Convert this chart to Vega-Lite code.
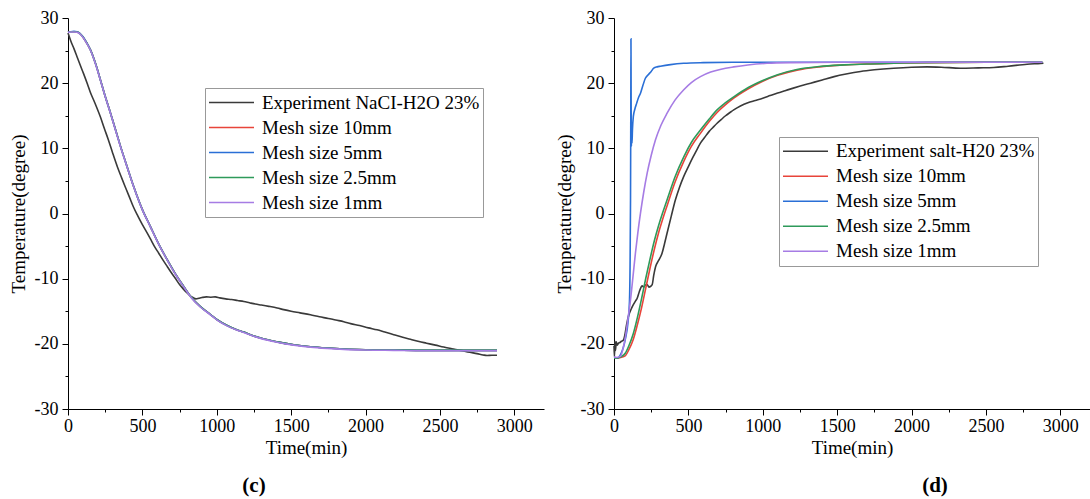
{
 "$schema": "https://vega.github.io/schema/vega-lite/v6.json",
 "background": "white",
 "padding": {"left": 9, "top": 9, "right": 2, "bottom": 2},
 "spacing": 11,
 "config": {
  "font": "Liberation Serif",
  "view": {"stroke": null},
  "axis": {"domainColor": "#000", "tickColor": "#000", "grid": false, "domainWidth": 1, "tickWidth": 1, "labelOverlap": false, "labelFlush": false, "labelFont": "Liberation Serif", "labelFontSize": 18, "labelColor": "#000", "titleFont": "Liberation Serif", "titleFontSize": 19, "titleFontWeight": "normal", "titleColor": "#000"},
  "legend": {"symbolType": "stroke", "symbolSize": 2025, "symbolStrokeWidth": 1.6, "labelFont": "Liberation Serif", "labelFontSize": 19, "labelColor": "#000", "labelOffset": 7, "strokeColor": "#999", "fillColor": "white", "padding": 3, "rowPadding": 2, "labelLimit": 400}
 },
 "resolve": {"scale": {"color": "independent"}, "legend": {"color": "independent"}},
 "datasets": {
  "c": [
   {"s":"Experiment NaCI-H2O 23%","t":0,"v":27.7},{"s":"Experiment NaCI-H2O 23%","t":20,"v":26.4},{"s":"Experiment NaCI-H2O 23%","t":40,"v":25.3},{"s":"Experiment NaCI-H2O 23%","t":60,"v":24.1},{"s":"Experiment NaCI-H2O 23%","t":80,"v":22.9},{"s":"Experiment NaCI-H2O 23%","t":104,"v":21.5},{"s":"Experiment NaCI-H2O 23%","t":130,"v":19.9},{"s":"Experiment NaCI-H2O 23%","t":150,"v":18.6},{"s":"Experiment NaCI-H2O 23%","t":180,"v":17.0},{"s":"Experiment NaCI-H2O 23%","t":218,"v":14.8},{"s":"Experiment NaCI-H2O 23%","t":245,"v":13.0},{"s":"Experiment NaCI-H2O 23%","t":270,"v":11.4},{"s":"Experiment NaCI-H2O 23%","t":300,"v":9.3},{"s":"Experiment NaCI-H2O 23%","t":333,"v":7.1},{"s":"Experiment NaCI-H2O 23%","t":360,"v":5.5},{"s":"Experiment NaCI-H2O 23%","t":390,"v":3.8},{"s":"Experiment NaCI-H2O 23%","t":415,"v":2.4},{"s":"Experiment NaCI-H2O 23%","t":440,"v":1.0},{"s":"Experiment NaCI-H2O 23%","t":470,"v":-0.4},{"s":"Experiment NaCI-H2O 23%","t":500,"v":-1.7},{"s":"Experiment NaCI-H2O 23%","t":530,"v":-2.9},{"s":"Experiment NaCI-H2O 23%","t":554,"v":-3.9},{"s":"Experiment NaCI-H2O 23%","t":580,"v":-5.0},{"s":"Experiment NaCI-H2O 23%","t":610,"v":-6.1},{"s":"Experiment NaCI-H2O 23%","t":640,"v":-7.2},{"s":"Experiment NaCI-H2O 23%","t":669,"v":-8.2},{"s":"Experiment NaCI-H2O 23%","t":695,"v":-9.1},{"s":"Experiment NaCI-H2O 23%","t":720,"v":-9.9},{"s":"Experiment NaCI-H2O 23%","t":750,"v":-10.9},{"s":"Experiment NaCI-H2O 23%","t":776,"v":-11.6},{"s":"Experiment NaCI-H2O 23%","t":801,"v":-12.2},{"s":"Experiment NaCI-H2O 23%","t":820,"v":-12.6},{"s":"Experiment NaCI-H2O 23%","t":840,"v":-12.9},{"s":"Experiment NaCI-H2O 23%","t":860,"v":-13.1},{"s":"Experiment NaCI-H2O 23%","t":880,"v":-13.0},{"s":"Experiment NaCI-H2O 23%","t":900,"v":-12.9},{"s":"Experiment NaCI-H2O 23%","t":930,"v":-12.8},{"s":"Experiment NaCI-H2O 23%","t":960,"v":-12.85},{"s":"Experiment NaCI-H2O 23%","t":990,"v":-12.8},{"s":"Experiment NaCI-H2O 23%","t":1020,"v":-12.95},{"s":"Experiment NaCI-H2O 23%","t":1060,"v":-13.1},{"s":"Experiment NaCI-H2O 23%","t":1100,"v":-13.2},{"s":"Experiment NaCI-H2O 23%","t":1140,"v":-13.35},{"s":"Experiment NaCI-H2O 23%","t":1182,"v":-13.5},{"s":"Experiment NaCI-H2O 23%","t":1220,"v":-13.7},{"s":"Experiment NaCI-H2O 23%","t":1260,"v":-13.9},{"s":"Experiment NaCI-H2O 23%","t":1300,"v":-14.05},{"s":"Experiment NaCI-H2O 23%","t":1350,"v":-14.25},{"s":"Experiment NaCI-H2O 23%","t":1406,"v":-14.5},{"s":"Experiment NaCI-H2O 23%","t":1450,"v":-14.75},{"s":"Experiment NaCI-H2O 23%","t":1500,"v":-15.0},{"s":"Experiment NaCI-H2O 23%","t":1560,"v":-15.25},{"s":"Experiment NaCI-H2O 23%","t":1630,"v":-15.55},{"s":"Experiment NaCI-H2O 23%","t":1690,"v":-15.85},{"s":"Experiment NaCI-H2O 23%","t":1750,"v":-16.1},{"s":"Experiment NaCI-H2O 23%","t":1800,"v":-16.35},{"s":"Experiment NaCI-H2O 23%","t":1854,"v":-16.6},{"s":"Experiment NaCI-H2O 23%","t":1900,"v":-16.9},{"s":"Experiment NaCI-H2O 23%","t":1960,"v":-17.2},{"s":"Experiment NaCI-H2O 23%","t":2020,"v":-17.55},{"s":"Experiment NaCI-H2O 23%","t":2078,"v":-17.85},{"s":"Experiment NaCI-H2O 23%","t":2130,"v":-18.2},{"s":"Experiment NaCI-H2O 23%","t":2190,"v":-18.6},{"s":"Experiment NaCI-H2O 23%","t":2250,"v":-19.0},{"s":"Experiment NaCI-H2O 23%","t":2302,"v":-19.3},{"s":"Experiment NaCI-H2O 23%","t":2360,"v":-19.65},{"s":"Experiment NaCI-H2O 23%","t":2410,"v":-19.9},{"s":"Experiment NaCI-H2O 23%","t":2470,"v":-20.2},{"s":"Experiment NaCI-H2O 23%","t":2526,"v":-20.5},{"s":"Experiment NaCI-H2O 23%","t":2580,"v":-20.75},{"s":"Experiment NaCI-H2O 23%","t":2638,"v":-21.0},{"s":"Experiment NaCI-H2O 23%","t":2700,"v":-21.3},{"s":"Experiment NaCI-H2O 23%","t":2750,"v":-21.5},{"s":"Experiment NaCI-H2O 23%","t":2790,"v":-21.7},{"s":"Experiment NaCI-H2O 23%","t":2817,"v":-21.8},{"s":"Experiment NaCI-H2O 23%","t":2850,"v":-21.75},{"s":"Experiment NaCI-H2O 23%","t":2884,"v":-21.75},
   {"s":"Mesh size 10mm","t":0,"v":27.8},{"s":"Mesh size 10mm","t":20,"v":27.9},{"s":"Mesh size 10mm","t":40,"v":27.9},{"s":"Mesh size 10mm","t":60,"v":27.85},{"s":"Mesh size 10mm","t":80,"v":27.6},{"s":"Mesh size 10mm","t":100,"v":27.1},{"s":"Mesh size 10mm","t":125,"v":26.2},{"s":"Mesh size 10mm","t":151,"v":25.1},{"s":"Mesh size 10mm","t":185,"v":23.0},{"s":"Mesh size 10mm","t":218,"v":20.5},{"s":"Mesh size 10mm","t":250,"v":18.0},{"s":"Mesh size 10mm","t":286,"v":15.4},{"s":"Mesh size 10mm","t":320,"v":12.8},{"s":"Mesh size 10mm","t":353,"v":10.3},{"s":"Mesh size 10mm","t":400,"v":7.0},{"s":"Mesh size 10mm","t":442,"v":4.1},{"s":"Mesh size 10mm","t":500,"v":0.6},{"s":"Mesh size 10mm","t":554,"v":-2.0},{"s":"Mesh size 10mm","t":610,"v":-4.7},{"s":"Mesh size 10mm","t":667,"v":-7.1},{"s":"Mesh size 10mm","t":720,"v":-9.2},{"s":"Mesh size 10mm","t":778,"v":-11.2},{"s":"Mesh size 10mm","t":830,"v":-12.9},{"s":"Mesh size 10mm","t":890,"v":-14.3},{"s":"Mesh size 10mm","t":958,"v":-15.5},{"s":"Mesh size 10mm","t":1003,"v":-16.3},{"s":"Mesh size 10mm","t":1070,"v":-17.2},{"s":"Mesh size 10mm","t":1130,"v":-17.8},{"s":"Mesh size 10mm","t":1182,"v":-18.2},{"s":"Mesh size 10mm","t":1250,"v":-18.8},{"s":"Mesh size 10mm","t":1300,"v":-19.15},{"s":"Mesh size 10mm","t":1406,"v":-19.7},{"s":"Mesh size 10mm","t":1518,"v":-20.15},{"s":"Mesh size 10mm","t":1630,"v":-20.45},{"s":"Mesh size 10mm","t":1742,"v":-20.65},{"s":"Mesh size 10mm","t":1854,"v":-20.8},{"s":"Mesh size 10mm","t":2000,"v":-20.9},{"s":"Mesh size 10mm","t":2190,"v":-20.95},{"s":"Mesh size 10mm","t":2400,"v":-21.0},{"s":"Mesh size 10mm","t":2600,"v":-21.0},{"s":"Mesh size 10mm","t":2884,"v":-21.0},
   {"s":"Mesh size 5mm","t":0,"v":27.8},{"s":"Mesh size 5mm","t":20,"v":27.9},{"s":"Mesh size 5mm","t":40,"v":27.95},{"s":"Mesh size 5mm","t":60,"v":27.9},{"s":"Mesh size 5mm","t":80,"v":27.65},{"s":"Mesh size 5mm","t":100,"v":27.15},{"s":"Mesh size 5mm","t":125,"v":26.25},{"s":"Mesh size 5mm","t":151,"v":25.1},{"s":"Mesh size 5mm","t":185,"v":23.0},{"s":"Mesh size 5mm","t":218,"v":20.5},{"s":"Mesh size 5mm","t":250,"v":18.0},{"s":"Mesh size 5mm","t":286,"v":15.4},{"s":"Mesh size 5mm","t":320,"v":12.8},{"s":"Mesh size 5mm","t":353,"v":10.3},{"s":"Mesh size 5mm","t":400,"v":7.0},{"s":"Mesh size 5mm","t":442,"v":4.1},{"s":"Mesh size 5mm","t":500,"v":0.6},{"s":"Mesh size 5mm","t":554,"v":-2.0},{"s":"Mesh size 5mm","t":610,"v":-4.7},{"s":"Mesh size 5mm","t":667,"v":-7.1},{"s":"Mesh size 5mm","t":720,"v":-9.2},{"s":"Mesh size 5mm","t":778,"v":-11.2},{"s":"Mesh size 5mm","t":830,"v":-12.9},{"s":"Mesh size 5mm","t":890,"v":-14.3},{"s":"Mesh size 5mm","t":958,"v":-15.5},{"s":"Mesh size 5mm","t":1003,"v":-16.3},{"s":"Mesh size 5mm","t":1070,"v":-17.2},{"s":"Mesh size 5mm","t":1130,"v":-17.8},{"s":"Mesh size 5mm","t":1182,"v":-18.2},{"s":"Mesh size 5mm","t":1250,"v":-18.8},{"s":"Mesh size 5mm","t":1300,"v":-19.15},{"s":"Mesh size 5mm","t":1406,"v":-19.7},{"s":"Mesh size 5mm","t":1518,"v":-20.15},{"s":"Mesh size 5mm","t":1630,"v":-20.45},{"s":"Mesh size 5mm","t":1742,"v":-20.65},{"s":"Mesh size 5mm","t":1854,"v":-20.8},{"s":"Mesh size 5mm","t":2000,"v":-20.9},{"s":"Mesh size 5mm","t":2190,"v":-20.95},{"s":"Mesh size 5mm","t":2400,"v":-21.0},{"s":"Mesh size 5mm","t":2600,"v":-21.0},{"s":"Mesh size 5mm","t":2884,"v":-21.0},
   {"s":"Mesh size 2.5mm","t":0,"v":27.8},{"s":"Mesh size 2.5mm","t":20,"v":27.9},{"s":"Mesh size 2.5mm","t":40,"v":27.9},{"s":"Mesh size 2.5mm","t":60,"v":27.85},{"s":"Mesh size 2.5mm","t":80,"v":27.6},{"s":"Mesh size 2.5mm","t":100,"v":27.1},{"s":"Mesh size 2.5mm","t":125,"v":26.2},{"s":"Mesh size 2.5mm","t":151,"v":25.1},{"s":"Mesh size 2.5mm","t":185,"v":23.0},{"s":"Mesh size 2.5mm","t":218,"v":20.5},{"s":"Mesh size 2.5mm","t":250,"v":18.0},{"s":"Mesh size 2.5mm","t":286,"v":15.4},{"s":"Mesh size 2.5mm","t":320,"v":12.8},{"s":"Mesh size 2.5mm","t":353,"v":10.3},{"s":"Mesh size 2.5mm","t":400,"v":7.0},{"s":"Mesh size 2.5mm","t":442,"v":4.1},{"s":"Mesh size 2.5mm","t":500,"v":0.6},{"s":"Mesh size 2.5mm","t":554,"v":-2.0},{"s":"Mesh size 2.5mm","t":610,"v":-4.7},{"s":"Mesh size 2.5mm","t":667,"v":-7.1},{"s":"Mesh size 2.5mm","t":720,"v":-9.2},{"s":"Mesh size 2.5mm","t":778,"v":-11.2},{"s":"Mesh size 2.5mm","t":830,"v":-12.9},{"s":"Mesh size 2.5mm","t":890,"v":-14.3},{"s":"Mesh size 2.5mm","t":958,"v":-15.5},{"s":"Mesh size 2.5mm","t":1003,"v":-16.3},{"s":"Mesh size 2.5mm","t":1070,"v":-17.2},{"s":"Mesh size 2.5mm","t":1130,"v":-17.8},{"s":"Mesh size 2.5mm","t":1182,"v":-18.2},{"s":"Mesh size 2.5mm","t":1250,"v":-18.8},{"s":"Mesh size 2.5mm","t":1300,"v":-19.15},{"s":"Mesh size 2.5mm","t":1406,"v":-19.7},{"s":"Mesh size 2.5mm","t":1518,"v":-20.15},{"s":"Mesh size 2.5mm","t":1630,"v":-20.45},{"s":"Mesh size 2.5mm","t":1742,"v":-20.65},{"s":"Mesh size 2.5mm","t":1854,"v":-20.8},{"s":"Mesh size 2.5mm","t":2000,"v":-20.9},{"s":"Mesh size 2.5mm","t":2190,"v":-20.95},{"s":"Mesh size 2.5mm","t":2400,"v":-21.0},{"s":"Mesh size 2.5mm","t":2600,"v":-21.0},{"s":"Mesh size 2.5mm","t":2884,"v":-21.0},
   {"s":"Mesh size 1mm","t":0,"v":27.8},{"s":"Mesh size 1mm","t":20,"v":27.85},{"s":"Mesh size 1mm","t":40,"v":27.85},{"s":"Mesh size 1mm","t":60,"v":27.8},{"s":"Mesh size 1mm","t":80,"v":27.55},{"s":"Mesh size 1mm","t":100,"v":27.05},{"s":"Mesh size 1mm","t":125,"v":26.15},{"s":"Mesh size 1mm","t":151,"v":25.05},{"s":"Mesh size 1mm","t":185,"v":22.95},{"s":"Mesh size 1mm","t":218,"v":20.45},{"s":"Mesh size 1mm","t":250,"v":17.95},{"s":"Mesh size 1mm","t":286,"v":15.35},{"s":"Mesh size 1mm","t":320,"v":12.75},{"s":"Mesh size 1mm","t":353,"v":10.25},{"s":"Mesh size 1mm","t":400,"v":6.95},{"s":"Mesh size 1mm","t":442,"v":4.05},{"s":"Mesh size 1mm","t":500,"v":0.55},{"s":"Mesh size 1mm","t":554,"v":-2.05},{"s":"Mesh size 1mm","t":610,"v":-4.75},{"s":"Mesh size 1mm","t":667,"v":-7.15},{"s":"Mesh size 1mm","t":720,"v":-9.25},{"s":"Mesh size 1mm","t":778,"v":-11.25},{"s":"Mesh size 1mm","t":830,"v":-12.95},{"s":"Mesh size 1mm","t":890,"v":-14.35},{"s":"Mesh size 1mm","t":958,"v":-15.55},{"s":"Mesh size 1mm","t":1003,"v":-16.35},{"s":"Mesh size 1mm","t":1070,"v":-17.25},{"s":"Mesh size 1mm","t":1130,"v":-17.85},{"s":"Mesh size 1mm","t":1182,"v":-18.25},{"s":"Mesh size 1mm","t":1250,"v":-18.85},{"s":"Mesh size 1mm","t":1300,"v":-19.2},{"s":"Mesh size 1mm","t":1406,"v":-19.75},{"s":"Mesh size 1mm","t":1518,"v":-20.2},{"s":"Mesh size 1mm","t":1630,"v":-20.5},{"s":"Mesh size 1mm","t":1742,"v":-20.7},{"s":"Mesh size 1mm","t":1854,"v":-20.85},{"s":"Mesh size 1mm","t":2000,"v":-20.95},{"s":"Mesh size 1mm","t":2190,"v":-21.0},{"s":"Mesh size 1mm","t":2400,"v":-21.05},{"s":"Mesh size 1mm","t":2600,"v":-21.05},{"s":"Mesh size 1mm","t":2884,"v":-21.05}
  ],
  "d": [
   {"s":"Experiment salt-H20 23%","t":0,"v":-20.3},{"s":"Experiment salt-H20 23%","t":3,"v":-22.0},{"s":"Experiment salt-H20 23%","t":6,"v":-19.6},{"s":"Experiment salt-H20 23%","t":10,"v":-21.0},{"s":"Experiment salt-H20 23%","t":15,"v":-19.7},{"s":"Experiment salt-H20 23%","t":22,"v":-20.2},{"s":"Experiment salt-H20 23%","t":30,"v":-19.9},{"s":"Experiment salt-H20 23%","t":40,"v":-19.8},{"s":"Experiment salt-H20 23%","t":50,"v":-19.6},{"s":"Experiment salt-H20 23%","t":60,"v":-19.5},{"s":"Experiment salt-H20 23%","t":66,"v":-19.3},{"s":"Experiment salt-H20 23%","t":75,"v":-18.4},{"s":"Experiment salt-H20 23%","t":85,"v":-17.0},{"s":"Experiment salt-H20 23%","t":99,"v":-15.6},{"s":"Experiment salt-H20 23%","t":115,"v":-14.7},{"s":"Experiment salt-H20 23%","t":130,"v":-14.0},{"s":"Experiment salt-H20 23%","t":145,"v":-13.4},{"s":"Experiment salt-H20 23%","t":156,"v":-13.0},{"s":"Experiment salt-H20 23%","t":170,"v":-12.0},{"s":"Experiment salt-H20 23%","t":180,"v":-11.4},{"s":"Experiment salt-H20 23%","t":189,"v":-11.1},{"s":"Experiment salt-H20 23%","t":200,"v":-11.3},{"s":"Experiment salt-H20 23%","t":210,"v":-11.0},{"s":"Experiment salt-H20 23%","t":223,"v":-10.9},{"s":"Experiment salt-H20 23%","t":235,"v":-11.3},{"s":"Experiment salt-H20 23%","t":245,"v":-11.2},{"s":"Experiment salt-H20 23%","t":257,"v":-10.9},{"s":"Experiment salt-H20 23%","t":267,"v":-9.5},{"s":"Experiment salt-H20 23%","t":279,"v":-8.2},{"s":"Experiment salt-H20 23%","t":300,"v":-7.2},{"s":"Experiment salt-H20 23%","t":323,"v":-6.1},{"s":"Experiment salt-H20 23%","t":340,"v":-4.6},{"s":"Experiment salt-H20 23%","t":357,"v":-3.0},{"s":"Experiment salt-H20 23%","t":385,"v":-0.4},{"s":"Experiment salt-H20 23%","t":413,"v":2.1},{"s":"Experiment salt-H20 23%","t":440,"v":4.0},{"s":"Experiment salt-H20 23%","t":469,"v":5.7},{"s":"Experiment salt-H20 23%","t":500,"v":7.2},{"s":"Experiment salt-H20 23%","t":530,"v":8.6},{"s":"Experiment salt-H20 23%","t":555,"v":9.7},{"s":"Experiment salt-H20 23%","t":581,"v":10.8},{"s":"Experiment salt-H20 23%","t":610,"v":11.7},{"s":"Experiment salt-H20 23%","t":640,"v":12.6},{"s":"Experiment salt-H20 23%","t":665,"v":13.2},{"s":"Experiment salt-H20 23%","t":693,"v":13.85},{"s":"Experiment salt-H20 23%","t":720,"v":14.4},{"s":"Experiment salt-H20 23%","t":750,"v":15.0},{"s":"Experiment salt-H20 23%","t":780,"v":15.5},{"s":"Experiment salt-H20 23%","t":805,"v":15.9},{"s":"Experiment salt-H20 23%","t":850,"v":16.5},{"s":"Experiment salt-H20 23%","t":900,"v":17.0},{"s":"Experiment salt-H20 23%","t":950,"v":17.35},{"s":"Experiment salt-H20 23%","t":1000,"v":17.7},{"s":"Experiment salt-H20 23%","t":1050,"v":18.1},{"s":"Experiment salt-H20 23%","t":1100,"v":18.5},{"s":"Experiment salt-H20 23%","t":1150,"v":18.85},{"s":"Experiment salt-H20 23%","t":1200,"v":19.2},{"s":"Experiment salt-H20 23%","t":1252,"v":19.55},{"s":"Experiment salt-H20 23%","t":1322,"v":20.0},{"s":"Experiment salt-H20 23%","t":1400,"v":20.5},{"s":"Experiment salt-H20 23%","t":1480,"v":21.0},{"s":"Experiment salt-H20 23%","t":1560,"v":21.4},{"s":"Experiment salt-H20 23%","t":1658,"v":21.8},{"s":"Experiment salt-H20 23%","t":1750,"v":22.05},{"s":"Experiment salt-H20 23%","t":1880,"v":22.3},{"s":"Experiment salt-H20 23%","t":2000,"v":22.45},{"s":"Experiment salt-H20 23%","t":2105,"v":22.5},{"s":"Experiment salt-H20 23%","t":2200,"v":22.45},{"s":"Experiment salt-H20 23%","t":2329,"v":22.3},{"s":"Experiment salt-H20 23%","t":2450,"v":22.35},{"s":"Experiment salt-H20 23%","t":2553,"v":22.4},{"s":"Experiment salt-H20 23%","t":2650,"v":22.6},{"s":"Experiment salt-H20 23%","t":2777,"v":22.9},{"s":"Experiment salt-H20 23%","t":2850,"v":23.0},{"s":"Experiment salt-H20 23%","t":2887,"v":23.05},
   {"s":"Mesh size 10mm","t":0,"v":-22.2},{"s":"Mesh size 10mm","t":20,"v":-22.2},{"s":"Mesh size 10mm","t":45,"v":-22.1},{"s":"Mesh size 10mm","t":77,"v":-21.8},{"s":"Mesh size 10mm","t":100,"v":-20.9},{"s":"Mesh size 10mm","t":130,"v":-19.3},{"s":"Mesh size 10mm","t":158,"v":-17.0},{"s":"Mesh size 10mm","t":186,"v":-14.4},{"s":"Mesh size 10mm","t":214,"v":-11.4},{"s":"Mesh size 10mm","t":242,"v":-8.4},{"s":"Mesh size 10mm","t":270,"v":-5.6},{"s":"Mesh size 10mm","t":298,"v":-3.1},{"s":"Mesh size 10mm","t":327,"v":-0.9},{"s":"Mesh size 10mm","t":357,"v":1.2},{"s":"Mesh size 10mm","t":410,"v":4.8},{"s":"Mesh size 10mm","t":469,"v":8.0},{"s":"Mesh size 10mm","t":520,"v":10.3},{"s":"Mesh size 10mm","t":581,"v":12.3},{"s":"Mesh size 10mm","t":640,"v":14.1},{"s":"Mesh size 10mm","t":693,"v":15.5},{"s":"Mesh size 10mm","t":750,"v":16.7},{"s":"Mesh size 10mm","t":805,"v":17.7},{"s":"Mesh size 10mm","t":900,"v":19.1},{"s":"Mesh size 10mm","t":1000,"v":20.3},{"s":"Mesh size 10mm","t":1100,"v":21.2},{"s":"Mesh size 10mm","t":1230,"v":22.0},{"s":"Mesh size 10mm","t":1380,"v":22.5},{"s":"Mesh size 10mm","t":1546,"v":22.8},{"s":"Mesh size 10mm","t":1700,"v":22.95},{"s":"Mesh size 10mm","t":1880,"v":23.05},{"s":"Mesh size 10mm","t":2100,"v":23.15},{"s":"Mesh size 10mm","t":2500,"v":23.2},{"s":"Mesh size 10mm","t":2880,"v":23.2},
   {"s":"Mesh size 5mm","t":0,"v":-22.2},{"s":"Mesh size 5mm","t":20,"v":-22.2},{"s":"Mesh size 5mm","t":45,"v":-21.6},{"s":"Mesh size 5mm","t":77,"v":-19.2},{"s":"Mesh size 5mm","t":95,"v":-16.5},{"s":"Mesh size 5mm","t":104,"v":-13.5},{"s":"Mesh size 5mm","t":108,"v":-8},{"s":"Mesh size 5mm","t":111,"v":2},{"s":"Mesh size 5mm","t":113,"v":16},{"s":"Mesh size 5mm","t":114,"v":26.8},{"s":"Mesh size 5mm","t":115,"v":19},{"s":"Mesh size 5mm","t":116,"v":12},{"s":"Mesh size 5mm","t":117,"v":10.3},{"s":"Mesh size 5mm","t":119,"v":13.5},{"s":"Mesh size 5mm","t":121,"v":10.8},{"s":"Mesh size 5mm","t":124,"v":12.8},{"s":"Mesh size 5mm","t":130,"v":14.9},{"s":"Mesh size 5mm","t":140,"v":16.0},{"s":"Mesh size 5mm","t":152,"v":16.9},{"s":"Mesh size 5mm","t":165,"v":17.8},{"s":"Mesh size 5mm","t":178,"v":18.45},{"s":"Mesh size 5mm","t":195,"v":19.7},{"s":"Mesh size 5mm","t":211,"v":20.75},{"s":"Mesh size 5mm","t":230,"v":21.3},{"s":"Mesh size 5mm","t":250,"v":21.8},{"s":"Mesh size 5mm","t":267,"v":22.3},{"s":"Mesh size 5mm","t":290,"v":22.5},{"s":"Mesh size 5mm","t":312,"v":22.6},{"s":"Mesh size 5mm","t":380,"v":22.85},{"s":"Mesh size 5mm","t":468,"v":23.05},{"s":"Mesh size 5mm","t":600,"v":23.15},{"s":"Mesh size 5mm","t":800,"v":23.2},{"s":"Mesh size 5mm","t":2880,"v":23.2},
   {"s":"Mesh size 2.5mm","t":0,"v":-22.2},{"s":"Mesh size 2.5mm","t":20,"v":-22.2},{"s":"Mesh size 2.5mm","t":45,"v":-22.0},{"s":"Mesh size 2.5mm","t":77,"v":-21.4},{"s":"Mesh size 2.5mm","t":100,"v":-20.3},{"s":"Mesh size 2.5mm","t":130,"v":-18.4},{"s":"Mesh size 2.5mm","t":158,"v":-15.9},{"s":"Mesh size 2.5mm","t":186,"v":-13.0},{"s":"Mesh size 2.5mm","t":214,"v":-9.9},{"s":"Mesh size 2.5mm","t":242,"v":-7.0},{"s":"Mesh size 2.5mm","t":270,"v":-4.3},{"s":"Mesh size 2.5mm","t":298,"v":-2.0},{"s":"Mesh size 2.5mm","t":327,"v":0.1},{"s":"Mesh size 2.5mm","t":357,"v":2.1},{"s":"Mesh size 2.5mm","t":410,"v":5.6},{"s":"Mesh size 2.5mm","t":469,"v":8.7},{"s":"Mesh size 2.5mm","t":520,"v":10.9},{"s":"Mesh size 2.5mm","t":581,"v":12.8},{"s":"Mesh size 2.5mm","t":640,"v":14.5},{"s":"Mesh size 2.5mm","t":693,"v":15.9},{"s":"Mesh size 2.5mm","t":750,"v":17.0},{"s":"Mesh size 2.5mm","t":805,"v":17.9},{"s":"Mesh size 2.5mm","t":900,"v":19.3},{"s":"Mesh size 2.5mm","t":1000,"v":20.4},{"s":"Mesh size 2.5mm","t":1100,"v":21.3},{"s":"Mesh size 2.5mm","t":1230,"v":22.1},{"s":"Mesh size 2.5mm","t":1380,"v":22.55},{"s":"Mesh size 2.5mm","t":1546,"v":22.8},{"s":"Mesh size 2.5mm","t":1700,"v":22.95},{"s":"Mesh size 2.5mm","t":1880,"v":23.05},{"s":"Mesh size 2.5mm","t":2100,"v":23.15},{"s":"Mesh size 2.5mm","t":2500,"v":23.2},{"s":"Mesh size 2.5mm","t":2880,"v":23.2},
   {"s":"Mesh size 1mm","t":0,"v":-22.0},{"s":"Mesh size 1mm","t":20,"v":-22.1},{"s":"Mesh size 1mm","t":44,"v":-21.9},{"s":"Mesh size 1mm","t":60,"v":-20.8},{"s":"Mesh size 1mm","t":77,"v":-18.9},{"s":"Mesh size 1mm","t":95,"v":-16.0},{"s":"Mesh size 1mm","t":111,"v":-13.25},{"s":"Mesh size 1mm","t":128,"v":-9.6},{"s":"Mesh size 1mm","t":144,"v":-6.1},{"s":"Mesh size 1mm","t":160,"v":-3.0},{"s":"Mesh size 1mm","t":178,"v":0.05},{"s":"Mesh size 1mm","t":200,"v":3.3},{"s":"Mesh size 1mm","t":223,"v":6.2},{"s":"Mesh size 1mm","t":250,"v":8.9},{"s":"Mesh size 1mm","t":279,"v":11.3},{"s":"Mesh size 1mm","t":315,"v":13.5},{"s":"Mesh size 1mm","t":357,"v":15.4},{"s":"Mesh size 1mm","t":410,"v":17.4},{"s":"Mesh size 1mm","t":469,"v":19.0},{"s":"Mesh size 1mm","t":520,"v":20.1},{"s":"Mesh size 1mm","t":581,"v":21.0},{"s":"Mesh size 1mm","t":650,"v":21.7},{"s":"Mesh size 1mm","t":720,"v":22.15},{"s":"Mesh size 1mm","t":805,"v":22.5},{"s":"Mesh size 1mm","t":900,"v":22.8},{"s":"Mesh size 1mm","t":1029,"v":23.05},{"s":"Mesh size 1mm","t":1200,"v":23.15},{"s":"Mesh size 1mm","t":1500,"v":23.2},{"s":"Mesh size 1mm","t":2000,"v":23.2},{"s":"Mesh size 1mm","t":2880,"v":23.2}
  ]
 },
 "hconcat": [
  {
   "width": 476, "height": 391,
   "data": {"name": "c"},
   "title": {"text": "(c)", "orient": "bottom", "dx": -52, "offset": 18, "font": "Liberation Serif", "fontSize": 21, "fontWeight": "bold", "color": "#000"},
   "mark": {"type": "line", "strokeWidth": 1.6, "interpolate": "monotone"},
   "encoding": {
    "x": {"field": "t", "type": "quantitative", "scale": {"domain": [0, 3200], "nice": false},
      "axis": {"title": "Time(min)", "values": [0,250,500,750,1000,1250,1500,1750,2000,2250,2500,2750,3000], "labelExpr": "datum.value % 500 === 0 ? '' + datum.value : ''", "tickSize": {"condition": {"test": "datum.value % 500 === 0", "value": 6}, "value": 3}, "labelPadding": 2, "titlePadding": 3}},
    "y": {"field": "v", "type": "quantitative", "scale": {"domain": [-30, 30], "nice": false},
      "axis": {"title": "Temperature(degree)", "values": [-30,-25,-20,-15,-10,-5,0,5,10,15,20,25,30], "labelExpr": "datum.value % 10 === 0 ? '' + datum.value : ''", "tickSize": {"condition": {"test": "datum.value % 10 === 0", "value": 6}, "value": 3}, "labelPadding": 4, "titlePadding": 6}},
    "color": {"field": "s", "type": "nominal", "sort": null,
      "scale": {"domain": ["Experiment NaCI-H2O 23%", "Mesh size 10mm", "Mesh size 5mm", "Mesh size 2.5mm", "Mesh size 1mm"], "range": ["#3a3a3a", "#e8443a", "#2a6fd6", "#2e9a5a", "#a67ce4"]},
      "legend": {"title": null, "orient": "none", "legendX": 137, "legendY": 70, "clipHeight": 23}}
   }
  },
  {
   "width": 476, "height": 391,
   "data": {"name": "d"},
   "title": {"text": "(d)", "orient": "bottom", "dx": 83, "offset": 18, "font": "Liberation Serif", "fontSize": 21, "fontWeight": "bold", "color": "#000"},
   "mark": {"type": "line", "strokeWidth": 1.6, "interpolate": "monotone"},
   "encoding": {
    "x": {"field": "t", "type": "quantitative", "scale": {"domain": [0, 3200], "nice": false},
      "axis": {"title": "Time(min)", "values": [0,250,500,750,1000,1250,1500,1750,2000,2250,2500,2750,3000], "labelExpr": "datum.value % 500 === 0 ? '' + datum.value : ''", "tickSize": {"condition": {"test": "datum.value % 500 === 0", "value": 6}, "value": 3}, "labelPadding": 2, "titlePadding": 3}},
    "y": {"field": "v", "type": "quantitative", "scale": {"domain": [-30, 30], "nice": false},
      "axis": {"title": "Temperature(degree)", "values": [-30,-25,-20,-15,-10,-5,0,5,10,15,20,25,30], "labelExpr": "datum.value % 10 === 0 ? '' + datum.value : ''", "tickSize": {"condition": {"test": "datum.value % 10 === 0", "value": 6}, "value": 3}, "labelPadding": 4, "titlePadding": 6}},
    "color": {"field": "s", "type": "nominal", "sort": null,
      "scale": {"domain": ["Experiment salt-H20 23%", "Mesh size 10mm", "Mesh size 5mm", "Mesh size 2.5mm", "Mesh size 1mm"], "range": ["#3a3a3a", "#e8443a", "#2a6fd6", "#2e9a5a", "#a67ce4"]},
      "legend": {"title": null, "orient": "none", "legendX": 165, "legendY": 119, "clipHeight": 22.5}}
   }
  }
 ]
}
